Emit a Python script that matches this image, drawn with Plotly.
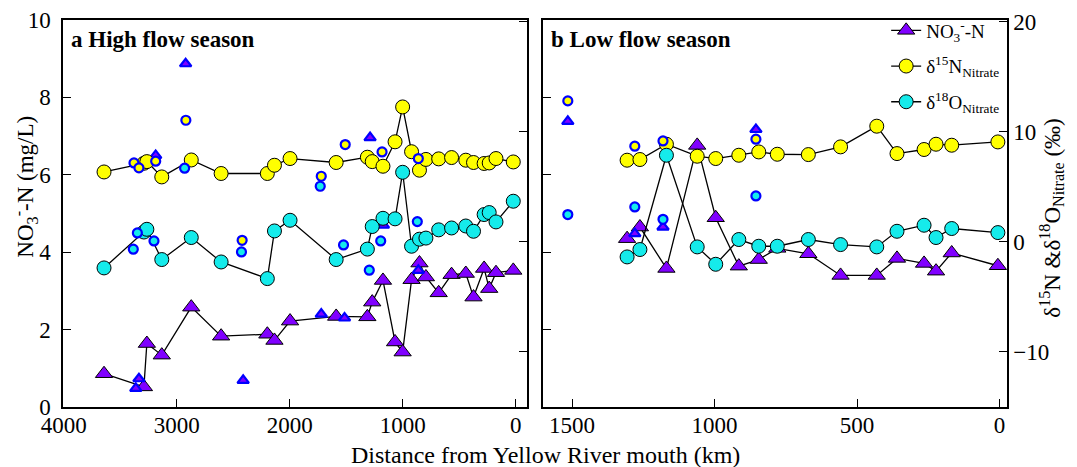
import plotly.graph_objects as go

# ---------------- data ----------------
# Panel a: high flow season (main stem, connected)
dist_a = [3643, 3290, 3264, 3132, 2871, 2607, 2198, 2135, 1997, 1589, 1313, 1270, 1175,
          1068, 1001, 922, 852, 795, 682, 568, 442, 374, 280, 235, 175, 22]
no3_a = [0.86, 0.52, 1.64, 1.34, 2.58, 1.83, 1.88, 1.72, 2.22, 2.34, 2.33, 2.71, 3.27,
         1.68, 1.42, 3.29, 3.72, 3.36, 2.95, 3.42, 3.45, 2.84, 3.58, 3.06, 3.47, 3.53]
d15n_a = [6.36, 7.15, 7.3, 5.91, 7.45, 6.22, 6.22, 6.97, 7.58, 7.22, 7.7, 7.3, 6.88,
          9.1, 12.27, 8.2, 6.52, 7.5, 7.55, 7.67, 7.43, 7.22, 7.13, 7.18, 7.58, 7.27]
d18o_a = [-2.36, 0.9, 1.15, -1.6, 0.4, -1.82, -3.33, 1.0, 1.97, -1.6, -0.65, 1.4, 2.15,
          2.1, 6.33, -0.39, 0.25, 0.35, 1.1, 1.27, 1.45, 0.97, 2.49, 2.67, 1.82, 3.7]

# Panel a: tributaries (unconnected, blue edged)
trib_no3_dist_a = [2921, 3186, 3334, 3362, 2412, 1721, 1515, 1289, 1171, 862]
trib_no3_a = [8.87, 6.5, 0.73, 0.48, 0.69, 2.40, 2.30, 6.96, 4.7, 3.53]
trib_d15n_dist_a = [2919, 3378, 3334, 3186, 2421, 1509, 1721, 1183, 862]
trib_d15n_a = [11.06, 7.18, 6.73, 7.34, 0.15, 8.85, 5.97, 8.18, 7.58]
trib_d18o_dist_a = [2930, 3348, 3384, 3201, 2427, 1730, 1524, 1195, 1296, 871]
trib_d18o_a = [6.7, 0.82, -0.66, 0.09, -0.91, 5.06, -0.27, 0.09, -2.57, 1.85]

# Panel b: low flow season (main stem, connected)
dist_b = [1307, 1262, 1169, 1061, 996, 915, 845, 780, 671, 558, 431, 360, 265, 223, 168, 6]
no3_b = [4.35, 4.65, 3.58, 6.76, 4.89, 3.64, 3.81, 4.1, 3.96, 3.4, 3.4, 3.84, 3.71, 3.51, 3.98, 3.65]
d15n_b = [7.43, 7.49, 8.88, 7.79, 7.58, 7.88, 8.18, 7.97, 7.94, 8.64, 10.52, 8.03, 8.4, 8.88, 8.79, 9.09]
d18o_b = [-1.36, -0.69, 7.88, -0.45, -2.03, 0.22, -0.39, -0.39, 0.22, -0.24, -0.45, 0.97, 1.52, 0.4, 1.22, 0.85]

# Panel b: tributaries
trib_dist_b = [1515, 1280, 1181, 855]
trib_no3_b = [7.38, 4.48, 4.65, 7.17]
trib_d15n_b = [12.82, 8.7, 9.18, 9.34]
trib_d18o_b = [2.49, 3.18, 2.06, 4.18]

xticks_a = [4000, 3000, 2000, 1000, 0]
xticks_b = [1500, 1000, 500, 0]
yticks_left = [0, 2, 4, 6, 8, 10]
yticks_right = [-10, 0, 10, 20]

# ---------------- style ----------------
PURPLE = "#8000FF"
YELLOW = "#FFFF00"
CYAN = "#15EBEB"
BLUE = "#0000FF"
FONT = "Liberation Serif, Times New Roman, Times, serif"

fig = go.Figure()


def main_trace(x, y, xa, ya, symbol, color, name, show):
    return go.Scatter(
        x=x, y=y, xaxis=xa, yaxis=ya, mode="lines+markers", name=name,
        legendgroup=name, showlegend=show,
        line=dict(color="black", width=1.3),
        marker=dict(symbol=symbol, size=15 if symbol == "triangle-up" else 14,
                    color=color, line=dict(color="black", width=1)),
    )


def trib_trace(x, y, xa, ya, symbol, color):
    return go.Scatter(
        x=x, y=y, xaxis=xa, yaxis=ya, mode="markers", showlegend=False,
        marker=dict(symbol=symbol, size=10 if symbol == "triangle-up" else 9,
                    color=color, line=dict(color=BLUE, width=2.2)),
    )


# panel a
fig.add_trace(main_trace(dist_a, d15n_a, "x", "y4", "circle", YELLOW, "d15", False))
fig.add_trace(main_trace(dist_a, d18o_a, "x", "y4", "circle", CYAN, "d18", False))
fig.add_trace(main_trace(dist_a, no3_a, "x", "y", "triangle-up", PURPLE, "no3", False))
fig.add_trace(trib_trace(trib_d15n_dist_a, trib_d15n_a, "x", "y4", "circle", YELLOW))
fig.add_trace(trib_trace(trib_d18o_dist_a, trib_d18o_a, "x", "y4", "circle", CYAN))
fig.add_trace(trib_trace(trib_no3_dist_a, trib_no3_a, "x", "y", "triangle-up", PURPLE))

# panel b
fig.add_trace(main_trace(dist_b, no3_b, "x2", "y2", "triangle-up", PURPLE,
                         "NO<sub>3</sub><sup>-</sup>-N", True))
fig.add_trace(main_trace(dist_b, d15n_b, "x2", "y3", "circle", YELLOW,
                         "δ<sup>15</sup>N<sub>Nitrate</sub>", True))
fig.add_trace(main_trace(dist_b, d18o_b, "x2", "y3", "circle", CYAN,
                         "δ<sup>18</sup>O<sub>Nitrate</sub>", True))
fig.add_trace(trib_trace(trib_dist_b, trib_d15n_b, "x2", "y3", "circle", YELLOW))
fig.add_trace(trib_trace(trib_dist_b, trib_d18o_b, "x2", "y3", "circle", CYAN))
fig.add_trace(trib_trace(trib_dist_b, trib_no3_b, "x2", "y2", "triangle-up", PURPLE))

axis_common = dict(showgrid=False, zeroline=False, showline=True, linecolor="black",
                   linewidth=1.5, ticks="inside", ticklen=8, tickwidth=1.3, tickcolor="black",
                   automargin=False,
                   tickfont=dict(family=FONT, size=23, color="black"))

fig.update_layout(
    width=1077, height=467,
    margin=dict(l=55, r=78, t=12, b=68, autoexpand=False),
    paper_bgcolor="white", plot_bgcolor="white",
    font=dict(family=FONT, color="black"),
    xaxis=dict(domain=[0, 0.491], range=[4006, -95], tickvals=xticks_a,
               anchor="y", mirror=True, ticklabelstandoff=-3, **axis_common),
    xaxis2=dict(domain=[0.5085, 1], range=[1602, -26], tickvals=xticks_b,
                anchor="y2", mirror=True, ticklabelstandoff=-3, **axis_common),
    yaxis=dict(domain=[0, 1], range=[0, 10], tickvals=yticks_left, anchor="x",
               ticklabelstandoff=6, **axis_common),
    yaxis4=dict(overlaying="y", side="right", anchor="x", range=[-15, 20.17],
                tickvals=yticks_right, showticklabels=False, **axis_common),
    yaxis2=dict(domain=[0, 1], range=[0, 10], tickvals=yticks_left, anchor="x2",
                showticklabels=False, **axis_common),
    yaxis3=dict(overlaying="y2", side="right", anchor="x2", range=[-15, 20.17],
                tickvals=yticks_right, **axis_common),
    legend=dict(x=0.997, y=1.022, xanchor="right", yanchor="top",
                bgcolor="rgba(0,0,0,0)", font=dict(family=FONT, size=19, color="black"),
                tracegroupgap=8),
    annotations=[
        dict(text="<b>a High flow season</b>", xref="paper", yref="paper",
             x=0.006, y=0.95, xanchor="left", yanchor="middle", showarrow=False,
             font=dict(family=FONT, size=23, color="black")),
        dict(text="<b>b Low flow season</b>", xref="paper", yref="paper",
             x=0.515, y=0.95, xanchor="left", yanchor="middle", showarrow=False,
             font=dict(family=FONT, size=23, color="black")),
        dict(text="Distance from Yellow River mouth (km)", xref="paper", yref="paper",
             x=0.511, y=-0.125, xanchor="center", yanchor="middle", showarrow=False,
             font=dict(family=FONT, size=24, color="black")),
        dict(text="NO<sub>3</sub><sup>-</sup>-N (mg/L)", xref="paper", yref="paper",
             x=-0.04, y=0.57, xanchor="center", yanchor="middle", textangle=-90,
             showarrow=False, font=dict(family=FONT, size=23, color="black")),
        dict(text="δ<sup>15</sup>N &δ<sup>18</sup>O<sub>Nitrate</sub> (‰)", xref="paper",
             yref="paper", x=1.047, y=0.49, xanchor="center", yanchor="middle",
             textangle=-90, showarrow=False,
             font=dict(family=FONT, size=23, color="black")),
    ],
)

fig.write_html("out.html")
